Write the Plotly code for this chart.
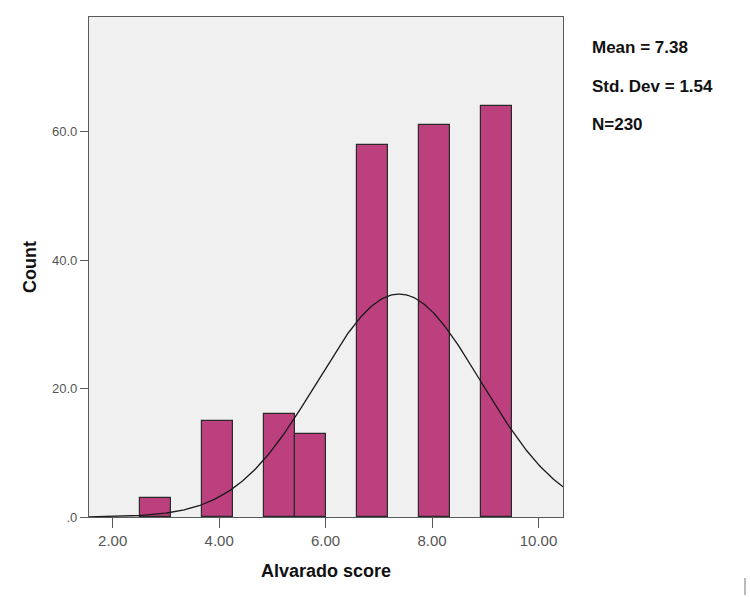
import numpy as np
import plotly.graph_objects as go

# Data
bin_centers = [2.80, 3.96, 5.13, 5.71, 6.88, 8.04, 9.21]
counts = [3, 15, 16, 13, 58, 61, 64]
bin_width = 0.583
mean_val = 7.38
std_val = 1.54
n_total = 230
x_tick_vals = [2, 4, 6, 8, 10]
x_tick_text = ["2.00", "4.00", "6.00", "8.00", "10.00"]
y_tick_vals = [0, 20, 40, 60]
y_tick_text = [".0", "20.0", "40.0", "60.0"]
stats_lines = ["Mean = 7.38", "Std. Dev = 1.54", "N=230"]

x_range = [1.555, 10.46]
y_range = [0, 77.9]

# Normal curve from the reported statistics
xs = np.linspace(x_range[0], x_range[1], 300)
ys = n_total * bin_width / (std_val * np.sqrt(2 * np.pi)) * np.exp(-0.5 * ((xs - mean_val) / std_val) ** 2)

fig = go.Figure()
fig.add_trace(go.Bar(
    x=bin_centers, y=counts, width=bin_width,
    marker=dict(color="#BC3F7E", line=dict(color="#2a2a2a", width=1.2)),
    showlegend=False, hoverinfo="x+y",
))
fig.add_trace(go.Scatter(
    x=xs, y=ys, mode="lines", line=dict(color="#1a1a1a", width=1.3),
    showlegend=False, hoverinfo="skip",
))

L, T, PW, PH = 89, 17, 474, 500

fig.update_layout(
    width=750, height=597,
    margin=dict(l=L, r=750 - L - PW, t=T, b=597 - T - PH),
    paper_bgcolor="white",
    plot_bgcolor="#F0F0F0",
    font=dict(family="Liberation Sans, Arial, sans-serif", color="#555555", size=12),
    bargap=0,
    xaxis=dict(
        range=x_range, tickvals=x_tick_vals, ticktext=x_tick_text,
        showgrid=False, zeroline=False, showline=True, linecolor="#5a5a5a", linewidth=1.3,
        mirror=True, ticks="outside", ticklen=10, tickcolor="#5a5a5a", tickwidth=1.3,
        tickfont=dict(size=15, color="#555555"),
        title=dict(text="<b>Alvarado score</b>", font=dict(size=18, color="#111111"), standoff=16),
    ),
    yaxis=dict(
        range=y_range, tickvals=y_tick_vals, ticktext=y_tick_text,
        showgrid=False, zeroline=False, showline=True, linecolor="#5a5a5a", linewidth=1.3,
        mirror=True, ticks="outside", ticklen=8, tickcolor="#5a5a5a", tickwidth=1.3,
        tickfont=dict(size=13, color="#555555"),
        title=dict(text="<b>Count</b>", font=dict(size=18, color="#111111"), standoff=10),
    ),
)

stats_y_px = [47, 86, 125]
for line, py in zip(stats_lines, stats_y_px):
    fig.add_annotation(
        xref="paper", yref="paper", x=(590 - L) / PW, y=(T + PH - py) / PH,
        xanchor="left", yanchor="middle", showarrow=False,
        text="<b>" + line + "</b>", font=dict(size=17, color="#111111"),
    )

# small stray vertical mark at bottom-right of the reference image
fig.add_shape(type="line", xref="paper", yref="paper",
              x0=(745 - L) / PW, x1=(745 - L) / PW,
              y0=-(578 - T - PH) / PH, y1=-(595 - T - PH) / PH,
              line=dict(color="#777777", width=1))

fig.write_html("out.html", config={"displayModeBar": False},
               post_script="document.body.style.margin='0';document.body.style.padding='0';")
